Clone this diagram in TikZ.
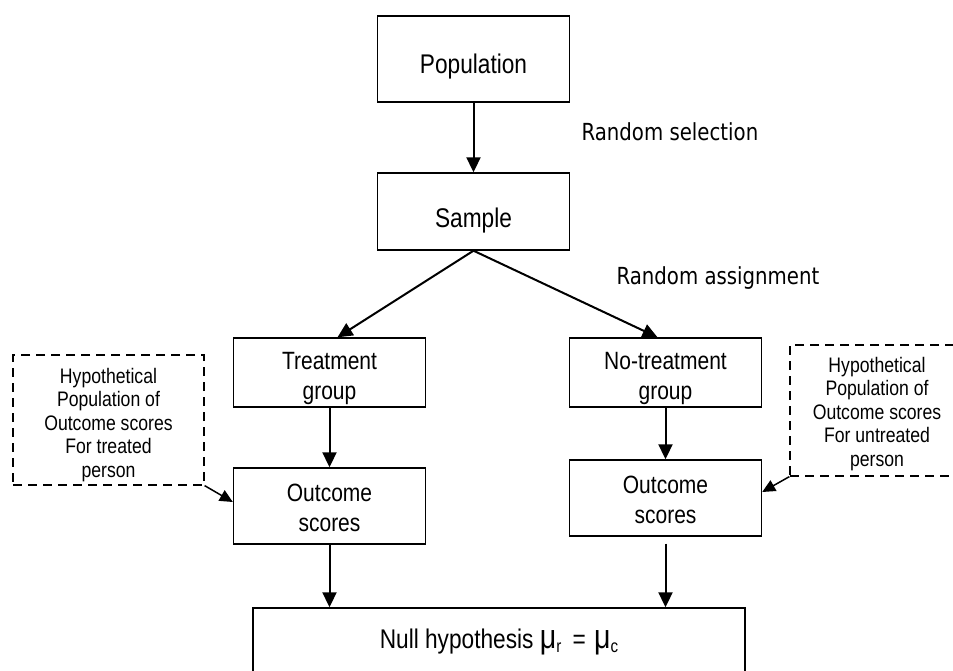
\documentclass[tikz,border=0pt]{standalone}
\usepackage{fontspec}
\setmainfont{Liberation Sans}[FakeStretch=0.84]
\newfontfamily\rndfont{DejaVu Sans}[FakeStretch=0.84]
\usetikzlibrary{arrows.meta,positioning,calc}
\newcommand{\musub}[1]{{\fontsize{34}{34}\selectfont μ}\raisebox{-3.5pt}{\fontsize{18}{18}\selectfont #1}}
\newcommand{\drop}[1]{\rule{0pt}{#1}}
\tikzset{
  box/.style={draw, line width=1.4pt, minimum width=192pt, align=center, inner sep=0pt, font=\fontsize{25}{30}\selectfont},
  hypbox/.style={draw, dash pattern=on 9pt off 6pt, line width=1.2pt, align=center, inner sep=0pt, font=\fontsize{21}{23.5}\selectfont},
  arr/.style={-{Triangle[length=15pt,width=14pt]}, line width=2pt},
  arrthin/.style={-{Triangle[length=13pt,width=12pt]}, line width=1.5pt},
  note/.style={anchor=base west, font=\rndfont\fontsize{23.5}{28}\selectfont}
}

\begin{document}
\begin{tikzpicture}[x=1pt,y=-1pt]
\clip (0,0) rectangle (953,671);
% main chain
\node[box, minimum height=86pt, font=\fontsize{27}{30}\selectfont] (pop) at (473.5,59) {\drop{34pt}Population};
\node[box, minimum height=77pt, font=\fontsize{27}{30}\selectfont] (sam) at (473.5,211.5) {\drop{37pt}Sample};
\node[box, minimum height=69pt] (tg) at (329.5,372.5) {\drop{30pt}Treatment\\group};
\node[box, minimum height=69pt] (ng) at (665.5,372.5) {\drop{30pt}No-treatment\\group};
\node[box, minimum height=76pt] (outl) at (329.5,506) {\drop{22pt}Outcome\\scores};
\node[box, minimum height=76pt] (outr) at (665.5,498) {\drop{22pt}Outcome\\scores};
\node[box, minimum width=492pt, minimum height=68pt, font=\fontsize{27}{30}\selectfont] (nul) at (499,642) {Null hypothesis \musub{r}\hspace{5pt} = \hspace{2pt}\musub{c}};
% hypothetical populations
\node[hypbox, minimum width=191pt, minimum height=130pt] (hl) at (108.5,420) {\drop{24.5pt}Hypothetical\\Population of\\Outcome scores\\For treated\\person};
\node[hypbox, minimum width=174pt, minimum height=131pt] (hr) at (877,410.5) {\drop{21.5pt}Hypothetical\\Population of\\Outcome scores\\For untreated\\person};
% side notes
\node[note] (rsel) at (578,141) {Random selection};
\node[note] (rass) at (613,284) {Random assignment};
% arrows
\draw[arr] (pop.south) -- (sam.north);
\draw[arr] (sam.south) -- ([xshift=8pt]tg.north);
\draw[arr] (sam.south) -- ([xshift=-8pt]ng.north);
\draw[arr] (tg.south) -- (outl.north);
\draw[arr] (ng.south) -- (outr.north);
\draw[arr] (outl.south) -- (outl.south |- nul.north);
\draw[arr, shorten <=7pt] (outr.south) -- (outr.south |- nul.north);
\draw[arrthin] (hl.south east) -- ([yshift=4pt]outl.west);
\draw[arrthin] (hr.south west) -- ([yshift=6pt]outr.east);
\end{tikzpicture}
\end{document}
